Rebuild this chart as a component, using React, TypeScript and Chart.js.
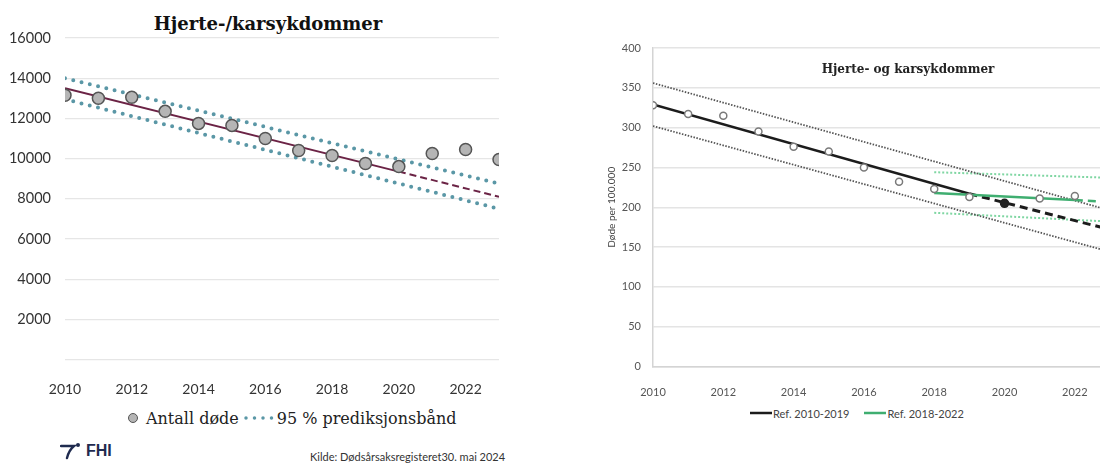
import React, { useEffect, useRef } from "react";
import { Chart, registerables } from "chart.js";

Chart.register(...registerables);

// ---------- Left chart data (Antall døde, hjerte-/karsykdommer) ----------
const YEARS = [2010, 2011, 2012, 2013, 2014, 2015, 2016, 2017, 2018, 2019, 2020, 2021, 2022, 2023];
const DEATHS = [13150, 13000, 13050, 12350, 11750, 11650, 11000, 10400, 10150, 9750, 9600, 10250, 10450, 9950];
const TREND_YEARS = [2010, 2020];
const TREND_VALUES = [13500, 9350];
const TREND_EXT_YEARS = [2020, 2023];
const TREND_EXT_VALUES = [9350, 8100];
const BAND_YEARS = [2010, 2023];
const BAND_UPPER = [14000, 8750];
const BAND_LOWER = [12950, 7500];

// ---------- Right chart data (Døde per 100.000) ----------
const RATE_YEARS = [2010, 2011, 2012, 2013, 2014, 2015, 2016, 2017, 2018, 2019, 2020, 2021, 2022];
const RATES = [328, 317, 315, 295, 276, 270, 250, 232, 223, 213, 205, 211, 214];
const HIGHLIGHT_YEAR = 2020;
const REF1_YEARS = [2010, 2019];
const REF1_VALUES = [329, 217];
const REF1_EXT_YEARS = [2019, 2023];
const REF1_EXT_VALUES = [217, 172];
const REF1_BAND_YEARS = [2010, 2023];
const REF1_UPPER = [356, 196];
const REF1_LOWER = [302, 144];
const REF2_YEARS = [2018, 2022];
const REF2_VALUES = [218, 209];
const REF2_EXT_YEARS = [2022, 2023];
const REF2_EXT_VALUES = [209, 206.5];
const REF2_BAND_YEARS = [2018, 2023];
const REF2_UPPER = [244, 237];
const REF2_LOWER = [193, 182];

const xy = (xs: number[], ys: number[]) => xs.map((x, i) => ({ x, y: ys[i] }));

const TEAL = "#5a97a6";
const MAROON = "#6b2345";
const BLACK = "#1c1c1c";
const GREEN = "#3fae70";
const LIGHTGREEN = "#7fd6a2";
const SANS = "Lato, 'Open Sans', sans-serif";
const SERIF = "'DejaVu Serif', serif";

function ChartCanvas({ config, width, height, style }: any) {
  const ref = useRef<HTMLCanvasElement | null>(null);
  useEffect(() => {
    if (!ref.current) return;
    const chart = new Chart(ref.current, config);
    return () => chart.destroy();
  }, []);
  return <canvas ref={ref} width={width} height={height} style={{ position: "absolute", ...style }} />;
}

const leftConfig: any = {
  type: "scatter",
  data: {
    datasets: [
      {
        label: "Antall døde",
        data: xy(YEARS, DEATHS),
        pointRadius: 6,
        pointBackgroundColor: "#b5b5b5",
        pointBorderColor: "#555555",
        pointBorderWidth: 1.5,
        showLine: false,
        order: 0,
      },
      {
        label: "Trend",
        data: xy(TREND_YEARS, TREND_VALUES),
        showLine: true,
        borderColor: MAROON,
        borderWidth: 2,
        pointRadius: 0,
        order: 1,
      },
      {
        label: "Trend framskrevet",
        data: xy(TREND_EXT_YEARS, TREND_EXT_VALUES),
        showLine: true,
        borderColor: MAROON,
        borderWidth: 2,
        borderDash: [7, 4],
        pointRadius: 0,
        order: 1,
      },
      {
        label: "95 % prediksjonsbånd",
        data: xy(BAND_YEARS, BAND_UPPER),
        showLine: true,
        borderColor: TEAL,
        borderWidth: 4,
        borderDash: [0, 8.5],
        borderCapStyle: "round",
        pointRadius: 0,
        order: 2,
      },
      {
        label: "95 % prediksjonsbånd (nedre)",
        data: xy(BAND_YEARS, BAND_LOWER),
        showLine: true,
        borderColor: TEAL,
        borderWidth: 4,
        borderDash: [0, 8.5],
        borderCapStyle: "round",
        pointRadius: 0,
        order: 2,
      },
    ],
  },
  options: {
    responsive: false,
    animation: false,
    layout: { padding: { top: 38, right: 41, left: 0, bottom: 0 } },
    plugins: { legend: { display: false }, tooltip: { enabled: false } },
    scales: {
      x: {
        type: "linear",
        min: 2010,
        max: 2023,
        grid: { display: false },
        border: { display: false },
        ticks: {
          stepSize: 2,
          includeBounds: false,
          padding: 14,
          color: "#333333",
          font: { family: SANS, size: 14 },
          callback: (v: number) => String(v),
        },
        afterFit: (s: any) => {
          s.height = 40.5;
        },
      },
      y: {
        min: 0,
        max: 16000,
        grid: { color: "#e6e6e6", lineWidth: 1.2, drawTicks: false },
        border: { display: false },
        ticks: {
          stepSize: 2000,
          padding: 14,
          color: "#333333",
          font: { family: SANS, size: 14.5 },
          callback: (v: number) => (v === 0 ? "" : String(v)),
        },
        afterFit: (s: any) => {
          s.width = 65;
        },
      },
    },
  },
};

const rightConfig: any = {
  type: "scatter",
  data: {
    datasets: [
      {
        label: "Døde per 100.000",
        data: xy(RATE_YEARS, RATES),
        pointRadius: (c: any) => (c.raw && c.raw.x === HIGHLIGHT_YEAR ? 4 : 3.5),
        pointBackgroundColor: (c: any) => (c.raw && c.raw.x === HIGHLIGHT_YEAR ? "#222222" : "#ffffff"),
        pointBorderColor: (c: any) => (c.raw && c.raw.x === HIGHLIGHT_YEAR ? "#222222" : "#7a7a7a"),
        pointBorderWidth: 1.5,
        showLine: false,
        order: 0,
      },
      {
        label: "Ref. 2010-2019",
        data: xy(REF1_YEARS, REF1_VALUES),
        showLine: true,
        borderColor: BLACK,
        borderWidth: 2.5,
        pointRadius: 0,
        order: 2,
      },
      {
        label: "Ref. 2010-2019 framskrevet",
        data: xy(REF1_EXT_YEARS, REF1_EXT_VALUES),
        showLine: true,
        borderColor: BLACK,
        borderWidth: 3,
        borderDash: [8, 5],
        pointRadius: 0,
        order: 2,
      },
      {
        label: "Ref. 2010-2019 øvre",
        data: xy(REF1_BAND_YEARS, REF1_UPPER),
        showLine: true,
        borderColor: "#555555",
        borderWidth: 1.8,
        borderDash: [1.5, 1.5],
        pointRadius: 0,
        order: 3,
      },
      {
        label: "Ref. 2010-2019 nedre",
        data: xy(REF1_BAND_YEARS, REF1_LOWER),
        showLine: true,
        borderColor: "#555555",
        borderWidth: 1.8,
        borderDash: [1.5, 1.5],
        pointRadius: 0,
        order: 3,
      },
      {
        label: "Ref. 2018-2022",
        data: xy(REF2_YEARS, REF2_VALUES),
        showLine: true,
        borderColor: GREEN,
        borderWidth: 2.5,
        pointRadius: 0,
        order: 1,
      },
      {
        label: "Ref. 2018-2022 framskrevet",
        data: xy(REF2_EXT_YEARS, REF2_EXT_VALUES),
        showLine: true,
        borderColor: GREEN,
        borderWidth: 2.5,
        borderDash: [8, 5],
        pointRadius: 0,
        order: 1,
      },
      {
        label: "Ref. 2018-2022 øvre",
        data: xy(REF2_BAND_YEARS, REF2_UPPER),
        showLine: true,
        borderColor: LIGHTGREEN,
        borderWidth: 2,
        borderDash: [2, 2],
        pointRadius: 0,
        order: 4,
      },
      {
        label: "Ref. 2018-2022 nedre",
        data: xy(REF2_BAND_YEARS, REF2_LOWER),
        showLine: true,
        borderColor: LIGHTGREEN,
        borderWidth: 2,
        borderDash: [2, 2],
        pointRadius: 0,
        order: 4,
      },
    ],
  },
  options: {
    responsive: false,
    animation: false,
    layout: { padding: { top: 48, right: 10, left: 0, bottom: 0 } },
    plugins: { legend: { display: false }, tooltip: { enabled: false } },
    scales: {
      x: {
        type: "linear",
        min: 2010,
        max: 2023,
        grid: { display: false },
        border: { display: true, color: "#d4d4d4", width: 1.5 },
        ticks: {
          stepSize: 2,
          includeBounds: false,
          padding: 11,
          color: "#555555",
          font: { family: SANS, size: 11 },
          callback: (v: number) => String(v),
        },
        afterFit: (s: any) => {
          s.height = 33.5;
        },
      },
      y: {
        min: 0,
        max: 400,
        grid: { color: "#e4e4e4", lineWidth: 1.5, drawTicks: false },
        border: { display: true, color: "#d4d4d4", width: 1.5 },
        title: {
          display: true,
          text: "Døde per 100.000",
          color: "#444444",
          font: { family: SANS, size: 10 },
          padding: { top: 6, bottom: 0 },
        },
        ticks: {
          stepSize: 50,
          padding: 12,
          color: "#555555",
          font: { family: SANS, size: 11 },
          callback: (v: number) => String(v),
        },
        afterFit: (s: any) => {
          s.width = 53;
        },
      },
    },
  },
};

export default function App() {
  return (
    <div
      style={{
        position: "fixed",
        left: 0,
        top: 0,
        width: 1100,
        height: 464,
        overflow: "hidden",
        background: "#ffffff",
      }}
    >
      {/* Left chart */}
      <div
        style={{
          position: "absolute",
          left: 0,
          width: 536,
          top: 12,
          textAlign: "center",
          fontFamily: SERIF,
          fontWeight: "bold",
          fontSize: 18,
          lineHeight: "24px",
          color: "#111111",
          whiteSpace: "nowrap",
        }}
      >
        Hjerte-/karsykdommer
      </div>
      <ChartCanvas config={leftConfig} width={540} height={400} style={{ left: 0, top: 0 }} />
      <div
        style={{
          position: "absolute",
          left: 128,
          top: 406,
          height: 24,
          display: "flex",
          alignItems: "center",
          fontFamily: SERIF,
          fontSize: 16,
          color: "#222222",
          whiteSpace: "nowrap",
        }}
      >
        <span
          style={{
            display: "inline-block",
            width: 8,
            height: 8,
            borderRadius: "50%",
            background: "#b5b5b5",
            border: "1px solid #555555",
            marginRight: 8,
          }}
        />
        <span>Antall døde</span>
        <svg width={34} height={8} style={{ marginLeft: 4 }}>
          <line x1={3} y1={4} x2={31} y2={4} stroke={TEAL} strokeWidth={3.5} strokeDasharray="0 8.5" strokeLinecap="round" />
        </svg>
        <span>95 % prediksjonsbånd</span>
      </div>
      <div style={{ position: "absolute", left: 60, top: 442, display: "flex", alignItems: "center" }}>
        <svg width={24} height={18}>
          <path d="M1 4 L14 4 Q9 8 7 16" stroke="#1f2b4f" strokeWidth={2.4} fill="none" strokeLinecap="round" />
          <circle cx={18} cy={3} r={2} fill="#1f2b4f" />
        </svg>
        <span
          style={{
            fontFamily: "'Liberation Sans', Arial, sans-serif",
            fontWeight: "bold",
            fontSize: 16,
            color: "#1f2b4f",
            marginLeft: 2,
          }}
        >
          FHI
        </span>
      </div>
      <div
        style={{
          position: "absolute",
          left: 310,
          top: 450,
          fontFamily: SANS,
          fontSize: 11,
          color: "#333333",
          whiteSpace: "nowrap",
        }}
      >
        Kilde: Dødsårsaksregisteret30. mai 2024
      </div>

      {/* Right chart */}
      <ChartCanvas config={rightConfig} width={520} height={400} style={{ left: 600, top: 0 }} />
      <div
        style={{
          position: "absolute",
          left: 758,
          width: 300,
          top: 61,
          textAlign: "center",
          fontFamily: SERIF,
          fontWeight: "bold",
          fontSize: 12,
          lineHeight: "16px",
          color: "#222222",
          whiteSpace: "nowrap",
        }}
      >
        Hjerte- og karsykdommer
      </div>
      <div
        style={{
          position: "absolute",
          left: 750,
          top: 405,
          height: 16,
          display: "flex",
          alignItems: "center",
          fontFamily: SANS,
          fontSize: 11,
          color: "#444444",
          whiteSpace: "nowrap",
        }}
      >
        <svg width={22} height={4}>
          <line x1={0} y1={2} x2={22} y2={2} stroke={BLACK} strokeWidth={2.5} />
        </svg>
        <span style={{ marginLeft: 1 }}>Ref. 2010-2019</span>
        <svg width={22} height={4} style={{ marginLeft: 15 }}>
          <line x1={0} y1={2} x2={22} y2={2} stroke={GREEN} strokeWidth={2.5} />
        </svg>
        <span style={{ marginLeft: 1 }}>Ref. 2018-2022</span>
      </div>
    </div>
  );
}
